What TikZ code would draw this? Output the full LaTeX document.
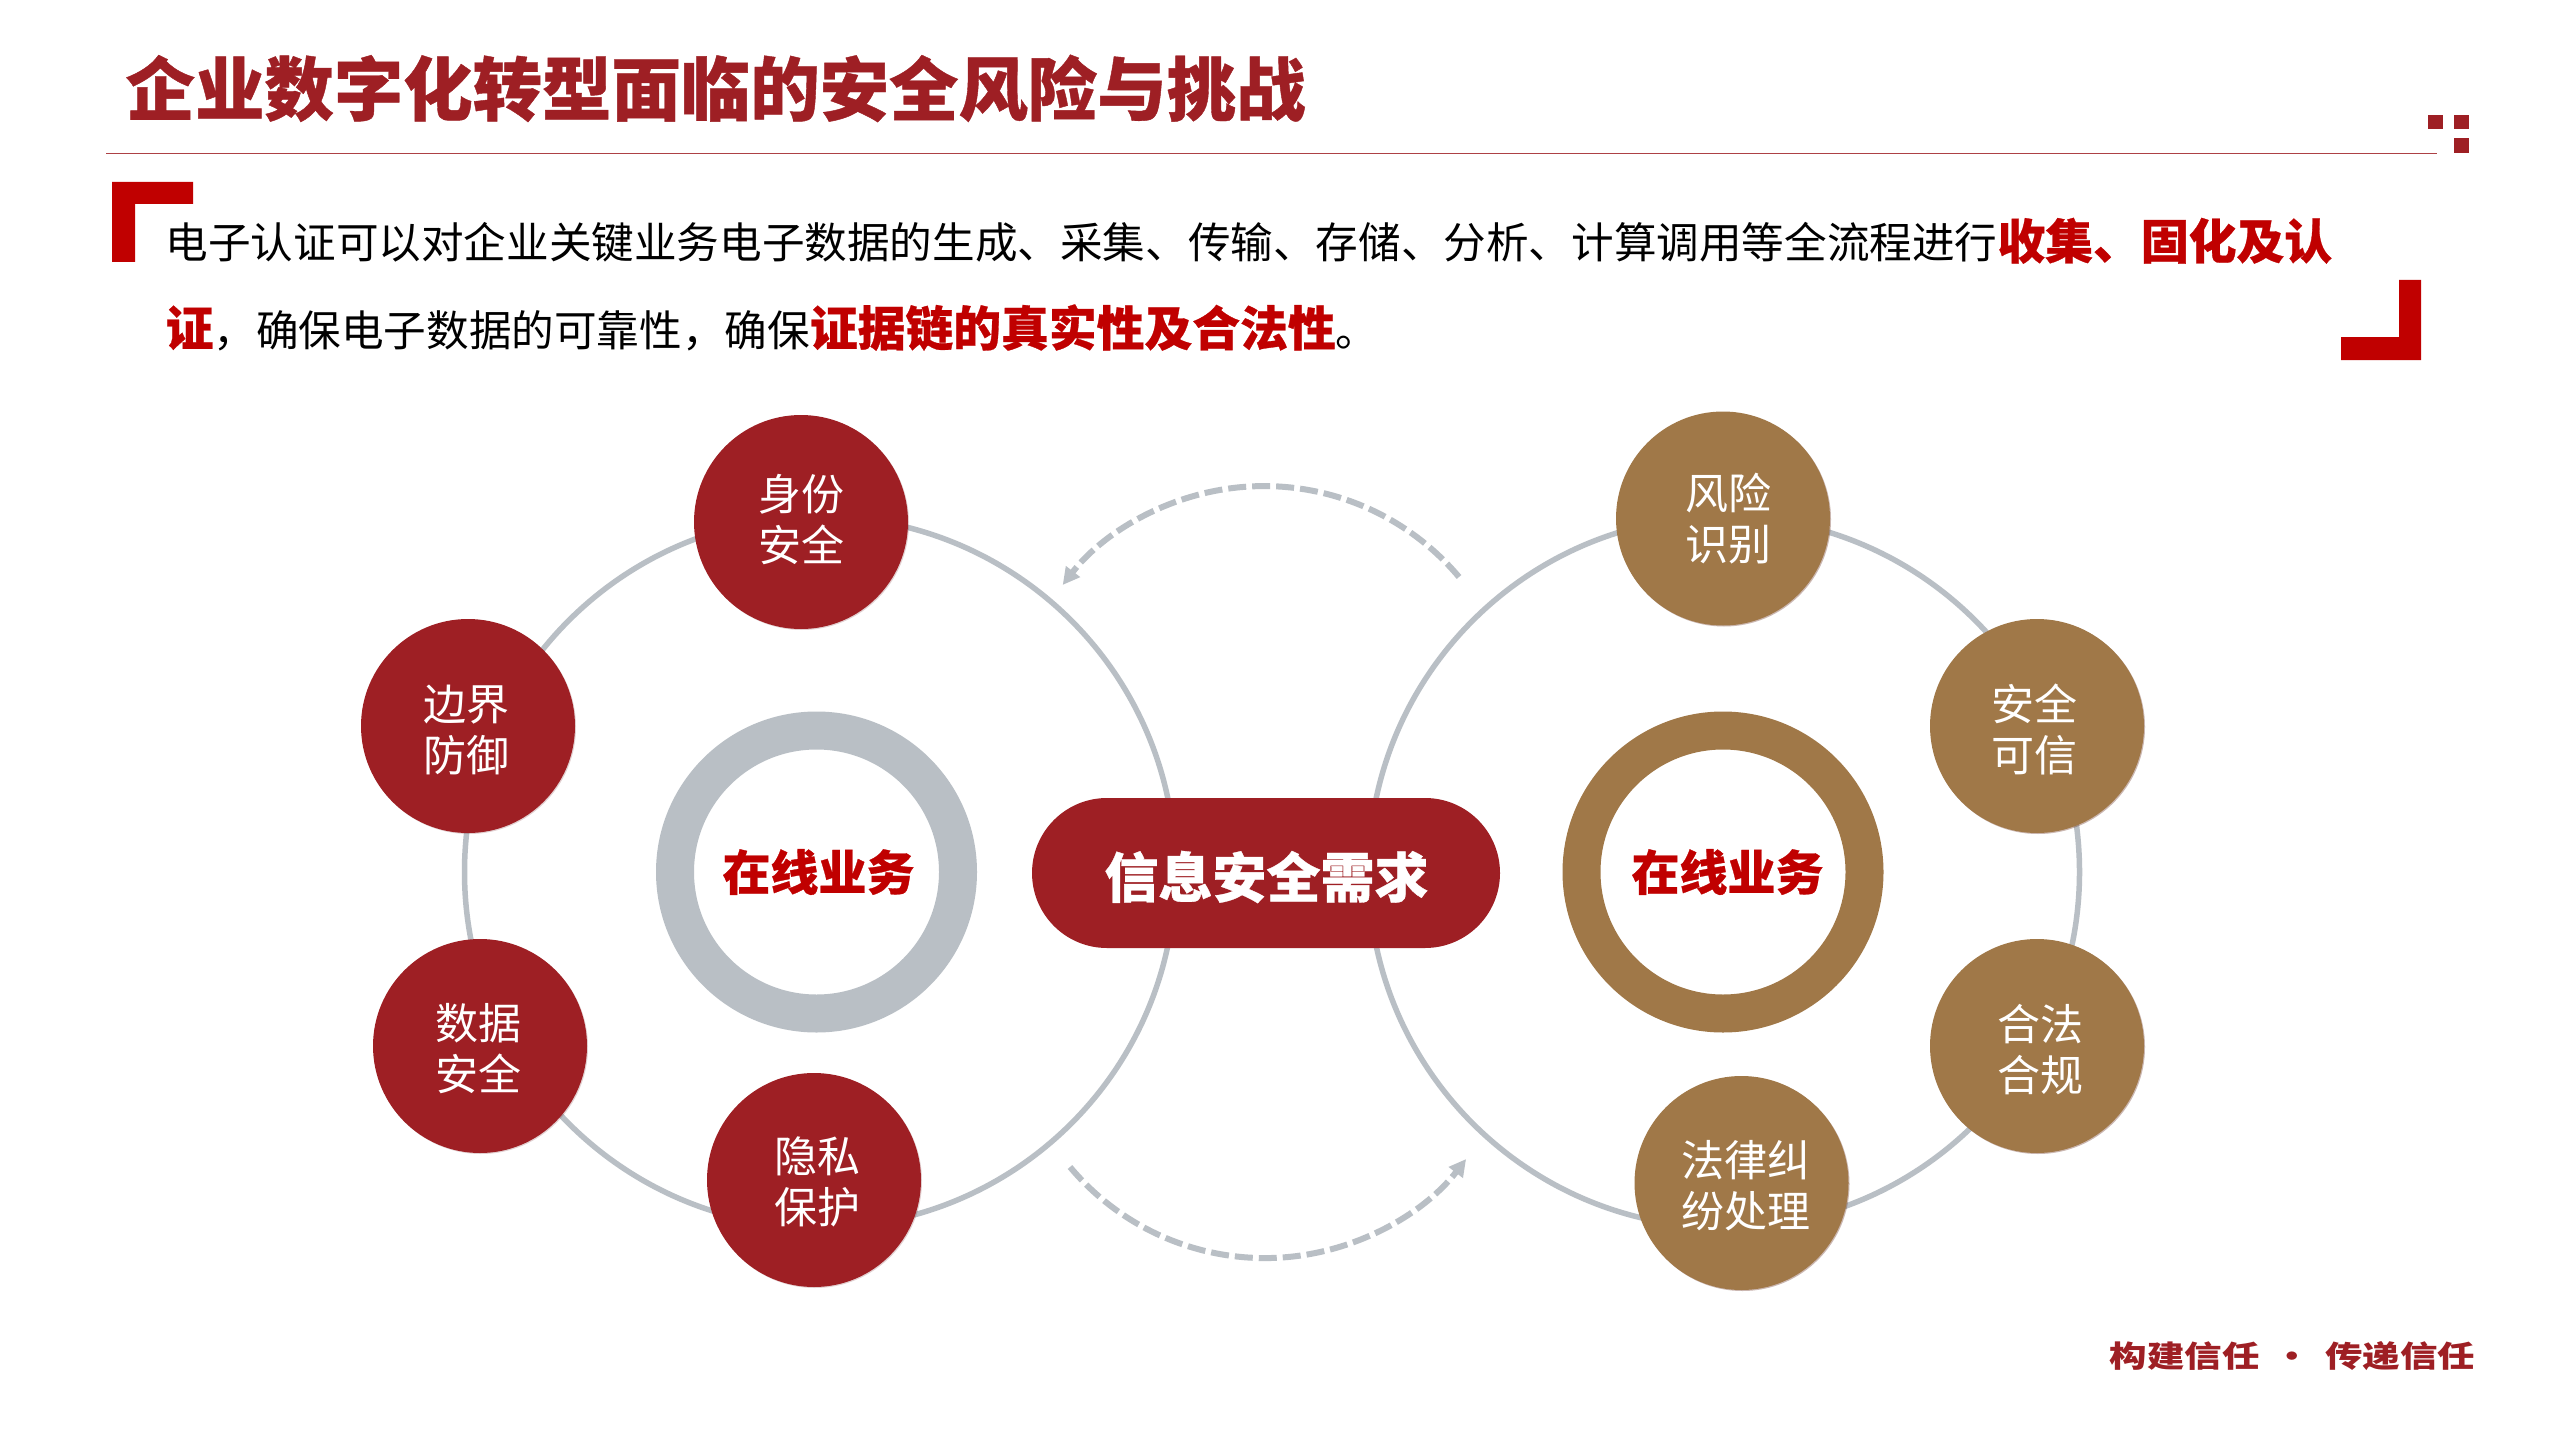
\documentclass[tikz,border=0pt]{standalone}
\usepackage{xcolor}
\usepackage{fontspec}
\usepackage{tikz}
\usetikzlibrary{shadows,arrows.meta}
\setmainfont{Noto Sans CJK SC}
\definecolor{deepred}{HTML}{9E1F24}
\definecolor{purered}{HTML}{C00000}
\definecolor{bronze}{HTML}{A07848}
\definecolor{steel}{HTML}{B9BFC5}
\newcommand{\heavy}{\bfseries\addfontfeatures{FakeBold=0.6}}
\newcommand{\hilite}[1]{{\fontsize{47.8pt}{50pt}\selectfont\heavy\textcolor{purered}{#1}}}

\begin{document}
\begin{tikzpicture}[
        x=1pt, y=-1pt,
        % Styles des cercles
        orbit/.style={circle, draw=steel, line width=5.5pt, minimum size=711pt, inner sep=0pt},
        rednode/.style={circle, fill=deepred, minimum size=214pt, inner sep=0pt,
            drop shadow={shadow xshift=1pt, shadow yshift=-1pt, opacity=.2, fill=deepred!70!black}},
        brownnode/.style={rednode, fill=bronze,
            drop shadow={shadow xshift=1pt, shadow yshift=-1pt, opacity=.2, fill=bronze!70!black}},
        ringnode/.style={circle, line width=38pt, minimum size=283pt, inner sep=0pt, fill=white},
        % Styles des textes dans les cercles
        circletext/.style={text=white, inner sep=0pt, align=center, font=\fontsize{43pt}{51pt}\selectfont},
        ringtext/.style={text=purered, inner sep=0pt, font=\fontsize{48pt}{48pt}\selectfont\heavy},
        % Style du rectangle central
        pillnode/.style={rectangle, fill=deepred, rounded corners=75pt, minimum width=468pt, minimum height=150pt},
        pilltext/.style={text=white, inner sep=0pt, font=\fontsize{54pt}{54pt}\selectfont\heavy},
        % Style des fleches en tirets
        cycleflow/.style={draw=steel, line width=6pt, dash pattern=on 18pt off 6pt, -{Triangle[length=17pt,width=17pt]}},
        % Styles du texte en haut
        titletext/.style={anchor=base west, text=deepred, inner sep=0pt, font=\fontsize{69.4pt}{70pt}\selectfont\heavy},
        leadtext/.style={anchor=base west, inner sep=0pt, font=\fontsize{42.6pt}{50pt}\selectfont}
    ]

    \useasboundingbox (0,0) rectangle (2559,1439);
    \fill[white] (0,0) rectangle (2559,1439);

    % Titre
    \node[titletext] (title) at (125.5,115) {企业数字化转型面临的安全风险与挑战};
    \coordinate (rulestart) at (106,153.5);
    \coordinate (ruleend) at (2437,153.5);
    \draw[deepred!85, line width=1.5pt] (rulestart) -- (ruleend);
    \fill[deepred] (2428,115) rectangle (2443,129);
    \fill[deepred] (2454,115) rectangle (2469,129);
    \fill[deepred] (2454,138) rectangle (2469,153);

    % Encadrement du texte
    \fill[purered] (112,182) -- (193,182) -- (193,204) -- (135,204) -- (135,262) -- (112,262) -- cycle;
    \fill[purered] (2421,280) -- (2421,360) -- (2341,360) -- (2341,337) -- (2399,337) -- (2399,280) -- cycle;
    \node[leadtext] (leadone) at (165.5,259) {电子认证可以对企业关键业务电子数据的生成、采集、传输、存储、分析、计算调用等全流程进行\hilite{收集、固化及认}};
    \node[leadtext] (leadtwo) at (165.5,346) {\hilite{证}，确保电子数据的可靠性，确保\hilite{证据链的真实性及合法性}。};

    % Grands cercles
    \node[orbit] (orbitleft) at (820,872) {};
    \node[orbit] (orbitright) at (1724,872) {};

    % Fleches en tirets
    \coordinate (flowtop) at (1459,577);
    \coordinate (flowbottom) at (1070,1167);
    \draw[cycleflow] (flowtop) arc[start angle=40, end angle=142.3, radius=254.5pt];
    \draw[cycleflow] (flowbottom) arc[start angle=219.9, end angle=322.4, radius=254pt];

    % Anneaux
    \node[ringnode, draw=steel] (ringleft) at (816.5,872) {};
    \node[ringnode, draw=bronze] (ringright) at (1723,872) {};
    \node[ringtext] (ringlefttext) at (818.5,872) {在线业务};
    \node[ringtext] (ringrighttext) at (1727.5,872) {在线业务};

    % Rectangle central
    \node[pillnode] (need) at (1266,873) {};
    \node[pilltext] (needtext) at (1266.5,877) {信息安全需求};

    % Cercles rouges
    \node[rednode] (identity) at (801,522) {};
    \node[rednode] (border) at (468,726) {};
    \node[rednode] (datanode) at (480,1046) {};
    \node[rednode] (privacy) at (814,1180) {};
    \node[circletext] (identitytext) at (801,520) {身份\\安全};
    \node[circletext] (bordertext) at (466.5,730) {边界\\防御};
    \node[circletext] (datatext) at (478.5,1049) {数据\\安全};
    \node[circletext] (privacytext) at (817,1182) {隐私\\保护};

    % Cercles bruns
    \node[brownnode] (risk) at (1723,518.5) {};
    \node[brownnode] (trust) at (2037,726) {};
    \node[brownnode] (legal) at (2037,1046) {};
    \node[brownnode] (dispute) at (1741.5,1183) {};
    \node[circletext] (risktext) at (1728,519) {风险\\识别};
    \node[circletext] (trusttext) at (2034,729) {安全\\可信};
    \node[circletext] (legaltext) at (2040,1050) {合法\\合规};
    \node[circletext] (disputetext) at (1746,1186) {法律纠\\纷处理};

    % Pied de page
    \node[text=deepred, xscale=1.25, inner sep=0pt, font=\fontsize{30pt}{30pt}\selectfont\bfseries] (motto) at (2292.5,1356)
        {构建信任\hspace{11.4pt}·\hspace{11.4pt}传递信任};
\end{tikzpicture}
\end{document}
